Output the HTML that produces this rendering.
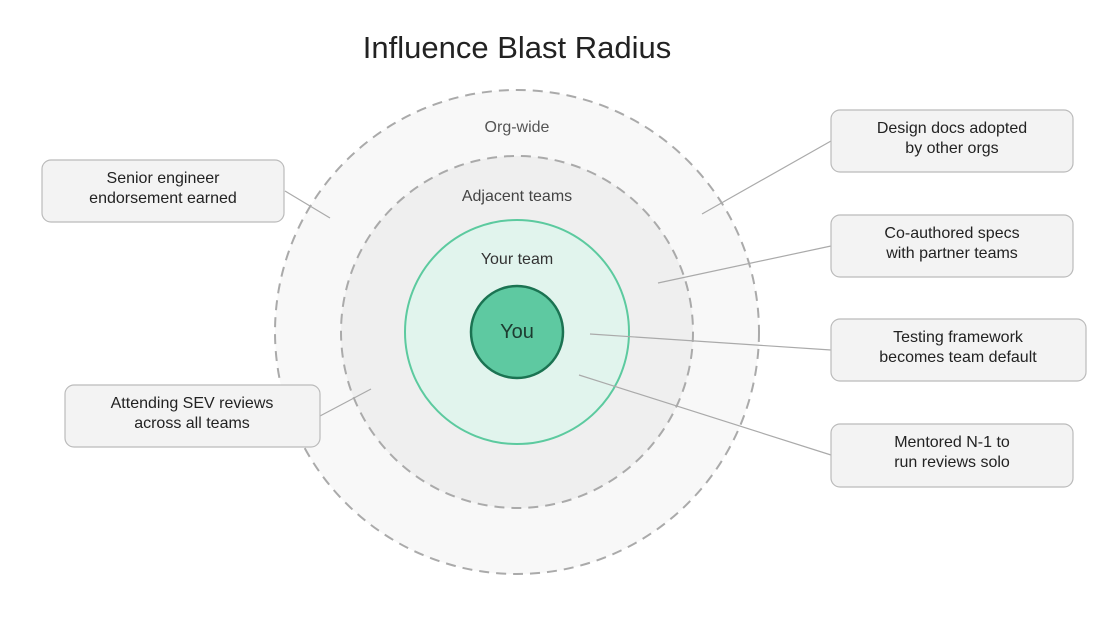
<!DOCTYPE html>
<html><head><meta charset="utf-8"><style>
body{margin:0;background:#fff;}
svg{display:block;font-family:"Liberation Sans",Arial,sans-serif;}
</style></head><body>
<svg width="1116" height="631" viewBox="0 0 1116 631" xmlns="http://www.w3.org/2000/svg">
<rect width="1116" height="631" fill="#fff"/>
<text x="517" y="58" font-size="31" fill="#222" text-anchor="middle">Influence Blast Radius</text>
<circle cx="517" cy="332" r="242" fill="#f8f8f8" stroke="#aaa" stroke-width="2" stroke-dasharray="10,7"/>
<circle cx="517" cy="332" r="176" fill="#efefef" stroke="#aaa" stroke-width="2" stroke-dasharray="10,7"/>
<circle cx="517" cy="332" r="112" fill="#e1f4ed" stroke="#5cca9f" stroke-width="2"/>
<circle cx="517" cy="332" r="46" fill="#5ec9a1" stroke="#1b7352" stroke-width="2.5"/>
<text x="517" y="132" font-size="16" fill="#555" text-anchor="middle">Org-wide</text>
<text x="517" y="201" font-size="16" fill="#444" text-anchor="middle">Adjacent teams</text>
<text x="517" y="264" font-size="16" fill="#333" text-anchor="middle">Your team</text>
<text x="517" y="338" font-size="20" fill="#1d3b30" text-anchor="middle">You</text>
<g stroke="#aaa" stroke-width="1.2">
<line x1="285" y1="191" x2="330" y2="218"/>
<line x1="320" y1="416" x2="371" y2="389"/>
<line x1="831" y1="141" x2="702" y2="214"/>
<line x1="831" y1="246" x2="658" y2="283"/>
<line x1="831" y1="350" x2="590" y2="334"/>
<line x1="831" y1="455" x2="579" y2="375"/>
</g>
<g fill="#f3f3f3" stroke="#bbb" stroke-width="1.2">
<rect x="42" y="160" width="242" height="62" rx="9"/>
<rect x="65" y="385" width="255" height="62" rx="9"/>
<rect x="831" y="110" width="242" height="62" rx="9"/>
<rect x="831" y="215" width="242" height="62" rx="9"/>
<rect x="831" y="319" width="255" height="62" rx="9"/>
<rect x="831" y="424" width="242" height="63" rx="9"/>
</g>
<g font-size="16" fill="#222" text-anchor="middle">
<text x="163" y="183">Senior engineer</text><text x="163" y="203">endorsement earned</text>
<text x="192" y="408">Attending SEV reviews</text><text x="192" y="428">across all teams</text>
<text x="952" y="133">Design docs adopted</text><text x="952" y="153">by other orgs</text>
<text x="952" y="238">Co-authored specs</text><text x="952" y="258">with partner teams</text>
<text x="958" y="342">Testing framework</text><text x="958" y="362">becomes team default</text>
<text x="952" y="447">Mentored N-1 to</text><text x="952" y="467">run reviews solo</text>
</g>
</svg>
</body></html>
